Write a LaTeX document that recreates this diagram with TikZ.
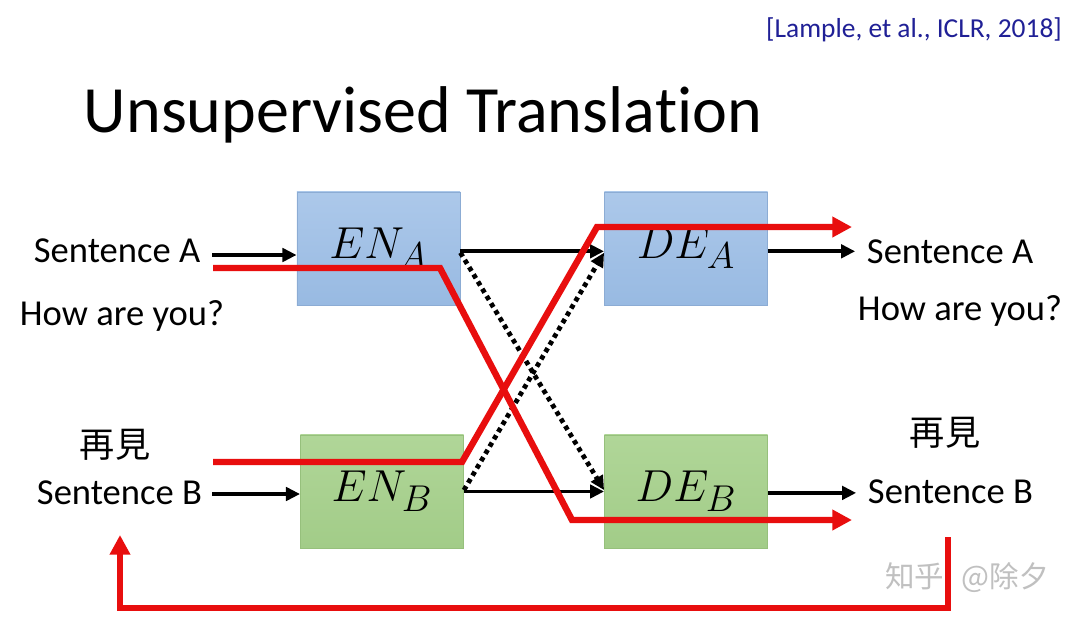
\documentclass[tikz,border=0pt]{standalone}
\usepackage{fontspec}
\setmainfont{Carlito}[Ligatures=NoCommon]
\newfontfamily\cjktc{Noto Sans CJK TC}
\newfontfamily\cjksc{Noto Sans CJK SC}
\usepackage{tikz}
\usetikzlibrary{arrows.meta}

\definecolor{boxbluetop}{RGB}{172,200,234}
\definecolor{boxbluebot}{RGB}{152,186,226}
\definecolor{boxblueline}{RGB}{140,172,212}
\definecolor{boxgreentop}{RGB}{176,214,152}
\definecolor{boxgreenbot}{RGB}{162,204,136}
\definecolor{boxgreenline}{RGB}{150,192,124}
\definecolor{pathred}{RGB}{232,14,14}
\definecolor{citeblue}{RGB}{32,32,150}
\definecolor{markgray}{RGB}{192,192,192}

\newcommand{\boxlabel}[1]{\scalebox{1.28}{\fontsize{24.88}{30}\selectfont$#1$}}

\begin{document}
\begin{tikzpicture}[x=0.025cm,y=-0.025cm,
->,>={Triangle[length=10pt,width=9.5pt]},line width=2.8pt]
\tikzstyle{every node}=[text=black]
\tikzstyle{every edge}=[draw,line width=2.8pt]
\tikzstyle{bluebox}=[draw=boxblueline,line width=0.6pt,top color=boxbluetop,bottom color=boxbluebot,
minimum width=4.075cm,minimum height=2.825cm]
\tikzstyle{greenbox}=[bluebox,draw=boxgreenline,top color=boxgreentop,bottom color=boxgreenbot]
\tikzstyle{sent}=[font=\fontsize{26}{31}\selectfont,inner sep=0pt]
\tikzstyle{zh}=[font=\cjktc\fontsize{25}{30}\selectfont,inner sep=0pt]
\tikzstyle{redpath}=[draw=pathred,line width=4.6pt,line join=miter,-{Triangle[length=14pt,width=14pt]}]
\tikzstyle{dots}=[line width=3.4pt,dash pattern=on 3.2pt off 2.8pt]

\useasboundingbox[fill=white] (0,0) rectangle (1080,625);

% title and reference
\node[font=\fontsize{47}{56}\selectfont,anchor=base west,inner sep=0pt] (title) at (82,132) {Unsupervised Transla\kern0pt tion};
\node[font=\fontsize{19.5}{23}\selectfont,text=citeblue,inner sep=0pt] (cite) at (914,30) {[Lample, et al., ICLR, 2018]};

% encoders and decoders
\node[bluebox]  (ENA) at (378.5,248.5) {\boxlabel{EN_A}};
\node[greenbox] (ENB) at (382,491.5)   {\boxlabel{EN_B}};
\node[bluebox]  (DEA) at (686,248.5)   {\boxlabel{DE_A}};
\node[greenbox] (DEB) at (686,491.5)   {\boxlabel{DE_B}};

% sentences
\node[sent,anchor=base west] (inA)  at (32,262)  {Sentence A};
\node[sent,anchor=base west] (howA) at (18,325)  {How are you?};
\node[zh]                    (zhB)  at (115,445) {再見};
\node[sent,anchor=base west] (inB)  at (35,504)  {Sentence B};
\node[sent,anchor=base west] (outA) at (865,263) {Sentence A};
\node[sent,anchor=base west] (howB) at (856,320) {How are you?};
\node[zh]                    (zhA)  at (945,433) {再見};
\node[sent,anchor=base west] (outB) at (866,503) {Sentence B};

% watermark
\node[font=\cjksc\fontsize{21}{25}\selectfont,text=markgray,inner sep=0pt] (mark) at (967,578) {知乎\hspace{0.6em}@除夕};

% black connectors
\coordinate (a0) at (212,255);
\coordinate (b0) at (212,494);
\path
(a0) edge (a0 -| ENA.west)
(b0) edge (b0 -| ENB.west)
([yshift=-2pt]ENA.east) edge ([yshift=-2pt]DEA.west)
([yshift=-3pt]ENA.east) edge[dots] ([yshift=1pt]DEB.west)
([yshift=1pt]ENB.east) edge[dots] ([yshift=-3pt]DEA.west)
(ENB.east) edge (DEB.west)
([yshift=-2pt]DEA.east) edge ([yshift=-2pt,xshift=-7pt]DEA.east -| outA.west)
([yshift=-1pt]DEB.east) edge ([yshift=-1pt,xshift=-7pt]DEB.east -| outB.west);

% red paths
\coordinate (r1) at (213,268);
\coordinate (r2) at (440,268);
\coordinate (r3) at (572,520);
\coordinate (r4) at (852,520);
\coordinate (s1) at (213,462);
\coordinate (s2) at (462,462);
\coordinate (s3) at (597,227);
\coordinate (s4) at (852,227);
\coordinate (t1) at (948,537);
\coordinate (t2) at (948,608);
\coordinate (t3) at (120,608);
\coordinate (t4) at (120,535);

\draw[redpath] (r1) -- (r2) -- (r3) -- (r4);
\draw[redpath] (s1) -- (s2) -- (s3) -- (s4);
\draw[redpath] (t1) -- (t2) -- (t3) -- (t4);

\end{tikzpicture}
\end{document}
